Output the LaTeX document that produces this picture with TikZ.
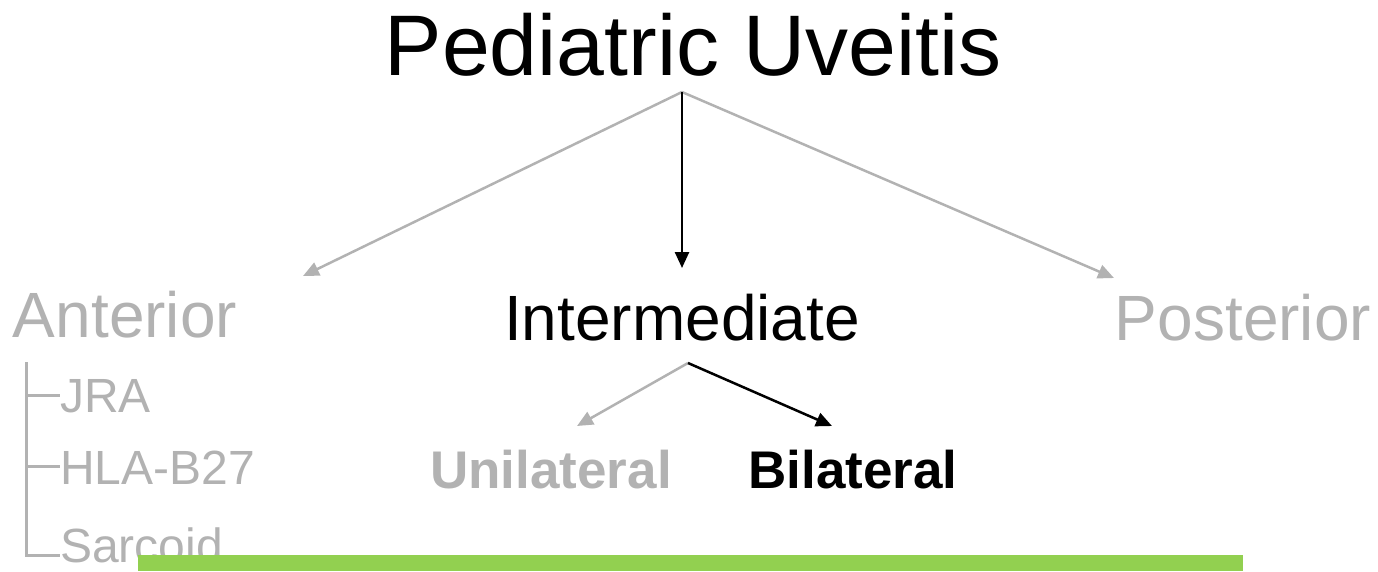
\documentclass[tikz,border=0pt]{standalone}
\usepackage{fontspec}
\setmainfont{Liberation Sans}
\usetikzlibrary{arrows.meta}
\definecolor{dimgrey}{RGB}{178,178,178}
\definecolor{barGreen}{RGB}{146,208,80}
\begin{document}
\begin{tikzpicture}[x=1pt,y=-1pt,
  txt/.style={inner sep=0pt,anchor=base},
  big/.style={txt,font=\fontsize{86}{86}\selectfont},
  mid/.style={txt,font=\fontsize{64}{64}\selectfont},
  small/.style={txt,anchor=base west,font=\fontsize{48}{48}\selectfont,text=dimgrey},
  boldlbl/.style={txt,font=\fontsize{53}{53}\selectfont\bfseries},
  link/.style={line width=2.5pt,-{Triangle[length=16pt,width=14pt]}},
  greylink/.style={link,draw=dimgrey},
  blacklink/.style={link,draw=black},
  branch/.style={draw=dimgrey,line width=3pt}]
\useasboundingbox (0,0) rectangle (1378,571);

% headings
\node[big] (title) at (693,75) {Pediatric Uveitis};
\node[mid,text=dimgrey] (ant) at (125,337) {Anterior};
\node[mid] (inter) at (682,340) {Intermediate};
\node[mid,text=dimgrey] (post) at (1243,340) {Posterior};

% laterality
\node[boldlbl,text=dimgrey] (uni) at (551,488) {Unilateral};
\node[boldlbl] (bi) at (853,488) {Bilateral};

% anterior sub-list
\node[small] (jra) at (60,412) {JRA};
\node[small] (hla) at (60,484) {HLA-B27};
\node[small] (sarc) at (60,562) {Sarcoid};

% connector hubs and arrow ends
\coordinate (hubT) at (682,92);
\coordinate (endA) at (303,276);
\coordinate (endI) at (682,268);
\coordinate (endP) at (1114,278);
\coordinate (hubI) at (688,363);
\coordinate (endU) at (577,426);
\coordinate (endB) at (832,426);

\draw[greylink] (hubT) -- (endA);
\draw[greylink] (hubT) -- (endP);
\draw[blacklink] (hubT) -- (endI);
\draw[greylink] (hubI) -- (endU);
\draw[blacklink] (hubI) -- (endB);

% tree brackets for the anterior list
\coordinate (treeTop) at (26,362);
\draw[branch] (treeTop) -- (26,555) -- (sarc.west |- 0,555);
\draw[branch] (26,395) -- (jra.west |- 0,395);
\draw[branch] (26,466) -- (hla.west |- 0,466);

% accent bar
\fill[barGreen] (138,555) rectangle (1243,571);
\end{tikzpicture}
\end{document}
